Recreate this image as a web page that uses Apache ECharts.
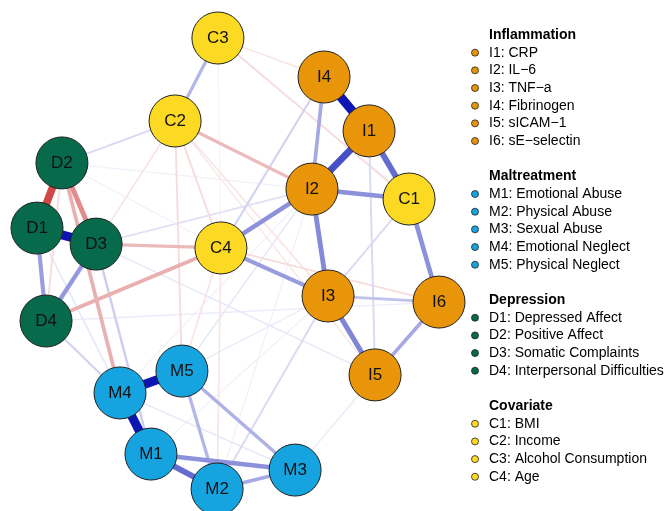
<!DOCTYPE html>
<html>
<head>
<meta charset="utf-8">
<script src="https://cdn.jsdelivr.net/npm/echarts@6/dist/echarts.min.js"></script>
<style>
  html, body { margin: 0; padding: 0; background: #ffffff; }
  #chart { width: 669px; height: 511px; }
</style>
</head>
<body>
<div id="chart"></div>
<script>
// ---- Network data -------------------------------------------------------
const groupNames  = ['Inflammation', 'Maltreatment', 'Depression', 'Covariate'];
const groupColors = ['#E8950A', '#16A4E0', '#066A4B', '#FCDA23'];

const nodeIds = ['I1', 'I2', 'I3', 'I4', 'I5', 'I6',
                 'M1', 'M2', 'M3', 'M4', 'M5',
                 'D1', 'D2', 'D3', 'D4',
                 'C1', 'C2', 'C3', 'C4'];
const nodeGroups = [0, 0, 0, 0, 0, 0,
                    1, 1, 1, 1, 1,
                    2, 2, 2, 2,
                    3, 3, 3, 3];
const nodeDescriptions = ['CRP', 'IL\u22126', 'TNF\u2212a', 'Fibrinogen', 'sICAM\u22121', 'sE\u2212selectin',
                          'Emotional Abuse', 'Physical Abuse', 'Sexual Abuse', 'Emotional Neglect', 'Physical Neglect',
                          'Depressed Affect', 'Positive Affect', 'Somatic Complaints', 'Interpersonal Difficulties',
                          'BMI', 'Income', 'Alcohol Consumption', 'Age'];

// Spring layout coordinates (range -1..1, y pointing up)
const layoutX = [ 0.652,  0.368,  0.448,  0.428,  0.682,  1.000,
                 -0.433, -0.104,  0.284, -0.587, -0.279,
                 -1.000, -0.876, -0.706, -0.955,
                  0.851, -0.313, -0.100, -0.085];
const layoutY = [ 0.588,  0.330, -0.144,  0.827, -0.494, -0.171,
                 -0.845, -1.000, -0.916, -0.574, -0.477,
                  0.157,  0.446,  0.086, -0.255,
                  0.286,  0.632,  1.000,  0.069];

// Partial correlations: [from, to, weight]
const edges = [
  ['I4', 'I1',  0.95], ['M4', 'M5',  0.95], ['M4', 'M1',  0.95], ['D1', 'D3',  0.95],
  ['D1', 'D2', -0.80], ['I1', 'I2',  0.72], ['I1', 'C1',  0.60], ['M1', 'M2',  0.60],
  ['D2', 'D3', -0.50], ['I2', 'C1',  0.45], ['I2', 'I3',  0.48], ['C4', 'I2',  0.45],
  ['I3', 'I5',  0.50], ['C1', 'I6',  0.45], ['M1', 'M3',  0.45], ['D1', 'D4',  0.40],
  ['D3', 'D4',  0.42], ['D4', 'C4', -0.35], ['D2', 'M4', -0.35], ['D3', 'C4', -0.30],
  ['M5', 'M2',  0.30], ['M2', 'M3',  0.35], ['M5', 'M3',  0.32], ['I5', 'I6',  0.35],
  ['I4', 'I2',  0.35], ['C3', 'C2',  0.30], ['C4', 'I3',  0.40], ['I3', 'I6',  0.25],
  ['C2', 'I2', -0.30],
  ['C2', 'D2',  0.15], ['C3', 'I4', -0.12], ['C3', 'C1', -0.15], ['C3', 'C4', -0.06],
  ['C2', 'M5', -0.15], ['C2', 'C4', -0.15], ['C2', 'I3', -0.12], ['C2', 'I5', -0.10],
  ['C2', 'D3', -0.12], ['C4', 'I6', -0.15], ['C4', 'M2', -0.12], ['C4', 'M5', -0.12],
  ['D2', 'D4', -0.15], ['D3', 'I2',  0.12], ['D3', 'M1',  0.20], ['D4', 'M4',  0.18],
  ['D1', 'M4',  0.10], ['I3', 'M2',  0.15], ['M3', 'I5',  0.07], ['D3', 'I5',  0.10],
  ['I1', 'I5',  0.15], ['I4', 'C4',  0.18], ['C1', 'I3',  0.15], ['I2', 'M5',  0.10],
  ['D2', 'I2',  0.06], ['D2', 'C4',  0.06], ['D4', 'I6',  0.08], ['M1', 'I3',  0.06],
  ['M4', 'I2',  0.06], ['M5', 'I3',  0.08], ['M3', 'M4',  0.10], ['M3', 'I6',  0.06],
  ['M2', 'I2',  0.06]
];

// ---- Styling helpers ----------------------------------------------------
const FONT = '"Liberation Sans", Arial, Helvetica, sans-serif';
const POS_BASE = [0, 10, 175];
const NEG_BASE = [196, 26, 26];

function edgeColor(w) {
  const a = Math.min(1, Math.abs(w));
  const base = w >= 0 ? POS_BASE : NEG_BASE;
  const c = base.map(v => Math.round(255 * (1 - a) + v * a));
  return 'rgb(' + c.join(',') + ')';
}
function edgeWidth(w) {
  return 0.6 + 8.8 * Math.abs(w);
}

// ---- Build graph ---------------------------------------------------------
const nodes = nodeIds.map((id, i) => ({
  name: id,
  value: [layoutX[i], layoutY[i]],
  itemStyle: { color: groupColors[nodeGroups[i]] }
}));

// weaker edges first so the strong ones sit on top
const links = edges
  .slice()
  .sort((a, b) => Math.abs(a[2]) - Math.abs(b[2]))
  .map(([s, t, w]) => ({
    source: s,
    target: t,
    lineStyle: { color: edgeColor(w), width: edgeWidth(w), opacity: 1 }
  }));

// ---- Grouped legend ------------------------------------------------------
const legendItems = [];
const LEG_X_DOT = 475, LEG_X_TEXT = 489, LEG_Y0 = 35, LEG_STEP = 17.67;
let row = 0;
groupNames.forEach((g, gi) => {
  legendItems.push({
    type: 'text', x: LEG_X_TEXT, y: LEG_Y0 + row * LEG_STEP,
    style: { text: g, font: 'bold 14px ' + FONT, fill: '#000', textVerticalAlign: 'middle', verticalAlign: 'middle' }
  });
  row++;
  nodeIds.forEach((id, i) => {
    if (nodeGroups[i] !== gi) return;
    const y = LEG_Y0 + row * LEG_STEP;
    legendItems.push({
      type: 'circle', shape: { cx: LEG_X_DOT, cy: y, r: 3.5 },
      style: { fill: groupColors[gi], stroke: '#222', lineWidth: 0.8 }
    });
    legendItems.push({
      type: 'text', x: LEG_X_TEXT, y: y,
      style: { text: id + ': ' + nodeDescriptions[i], font: '14px ' + FONT, fill: '#000', textVerticalAlign: 'middle', verticalAlign: 'middle' }
    });
    row++;
  });
  row++;
});

const chart = echarts.init(document.getElementById('chart'), null, { renderer: 'canvas' });
chart.setOption({
  backgroundColor: '#ffffff',
  animation: false,
  grid: { left: 37, top: 38, width: 402, height: 451, show: false },
  xAxis: { type: 'value', min: -1, max: 1, show: false },
  yAxis: { type: 'value', min: -1, max: 1, show: false },
  series: [{
    type: 'graph',
    coordinateSystem: 'cartesian2d',
    silent: true,
    symbol: 'circle',
    symbolSize: 52,
    itemStyle: { borderColor: '#222', borderWidth: 1 },
    label: { show: true, position: 'inside', fontSize: 17, color: '#111', fontFamily: FONT },
    lineStyle: { opacity: 1, curveness: 0 },
    emphasis: { disabled: true },
    data: nodes,
    links: links
  }],
  graphic: legendItems
});
</script>
</body>
</html>
